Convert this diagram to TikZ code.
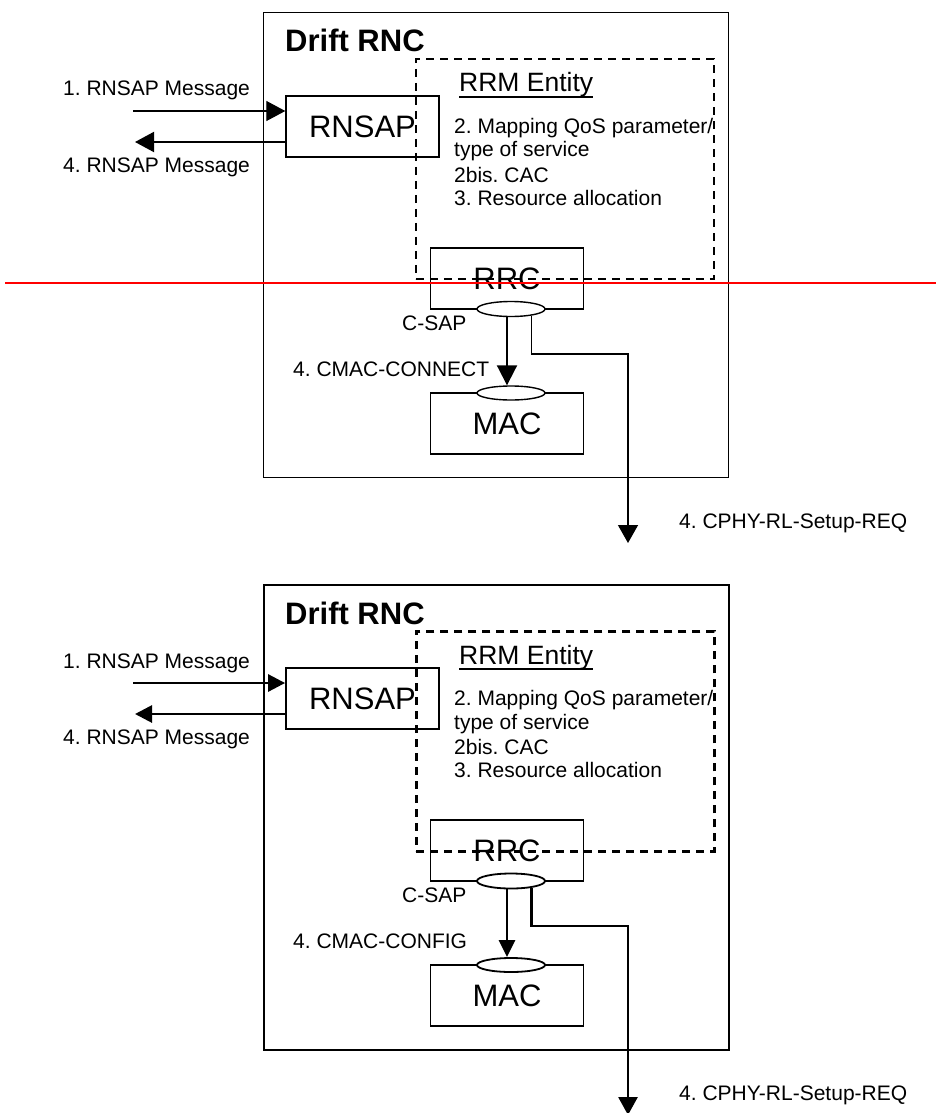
\documentclass[tikz,border=0pt]{standalone}
\usepackage{fontspec}
\setmainfont{Liberation Sans}
\usetikzlibrary{arrows.meta,shapes.geometric}
\frenchspacing
\tikzset{
  rncbox/.style={draw, wbox, inner sep=0pt, font=\fontsize{31}{36}\selectfont},
  rrmbox/.style={draw, wdash, dash pattern=on 8pt off 6pt, inner sep=0pt},
  sapell/.style={ellipse, draw, fill=white, wbox, inner sep=0pt, minimum width=68pt},
  lbl/.style={font=\fontsize{21}{24}\selectfont, inner sep=0pt},
  titletxt/.style={font=\fontsize{31}{36}\selectfont\bfseries, inner sep=0pt},
  rrmtxt/.style={font=\fontsize{26.5}{30}\selectfont, inner sep=0pt},
}
\newcommand{\rncpart}[2]{%
  \node[rncbox, minimum width=465pt, minimum height=465pt, anchor=north west] (outer#1) at (263,12) {};
  \node[titletxt, anchor=base west] (title#1) at (285,52) {Drift RNC};
  \node[rncbox, minimum width=153pt, minimum height=61pt] (rnsap#1) at (362.5,126.5) {RNSAP};
  \node[rncbox, minimum width=153pt, minimum height=61pt] (rrc#1) at (507,278.5) {RRC};
  \node[rncbox, minimum width=153pt, minimum height=61pt] (mac#1) at (507,423.5) {MAC};
  \node[rrmbox, minimum width=298pt, minimum height=220pt, anchor=north west] (rrm#1) at (415,58) {};
  \node[rrmtxt, anchor=base west] (rrmt#1) at (459,92) {RRM Entity};
  \draw[line width=1.7pt] ([yshift=-5pt]rrmt#1.base west) -- ([yshift=-5pt]rrmt#1.base east);
  \node[lbl, anchor=base west] (sa#1) at (454,133) {2. Mapping QoS parameter/};
  \node[lbl, anchor=base west] (sb#1) at (454,157) {type of service};
  \node[lbl, anchor=base west] (sc#1) at (454,182) {2bis. CAC};
  \node[lbl, anchor=base west] (sd#1) at (454,205) {3. Resource allocation};
  \node[lbl, anchor=base west] (ma#1) at (63,96) {1. RNSAP Message};
  \node[lbl, anchor=base west] (mb#1) at (63,172) {4. RNSAP Message};
  \coordinate (in#1) at (133,111);
  \coordinate (out#1) at (135,142);
  \draw[inarr] (in#1) -- (in#1 -| rnsap#1.west);
  \draw[outarr] (out#1 -| rnsap#1.west) -- (out#1);
  \node[sapell, minimum height=15pt] (csap#1) at (511,309) {};
  \node[sapell, minimum height=14pt] (msap#1) at (511,393) {};
  \node[lbl, anchor=base west] (cs#1) at (402,330) {C-SAP};
  \node[lbl, anchor=base west] (cm#1) at (293,376) {#2};
  \draw[cmacarr] ([xshift=-4pt]csap#1.south) -- ([xshift=-4pt]msap#1.north);
  \coordinate (bend#1) at (628,354);
  \coordinate (tip#1) at (628,543);
  \draw[phyarr] (csap#1.-18) |- (bend#1) -- (tip#1);
  \node[lbl, anchor=base west] (cp#1) at (679,528) {4. CPHY-RL-Setup-REQ};
}
\begin{document}
\begin{tikzpicture}[x=1pt, y=-1pt]
  \fill[white] (0,0) rectangle (936,1113);
  \useasboundingbox (0,0) rectangle (936,1113);
  \begin{scope}[
      wbox/.style={line width=1.4pt},
      wdash/.style={line width=1.7pt},
      inarr/.style={line width=1.2pt, -{Triangle[length=19pt,width=20pt]}},
      outarr/.style={line width=2pt, -{Triangle[length=19pt,width=20pt]}},
      cmacarr/.style={line width=2pt, -{Triangle[length=20pt,width=20pt]}},
      phyarr/.style={line width=1.4pt, -{Triangle[length=18pt,width=20pt]}}]
    \rncpart{a}{4. CMAC-CONNECT}
  \end{scope}
  \begin{scope}[yshift=-572pt,
      wbox/.style={line width=1.8pt},
      wdash/.style={line width=2.6pt},
      inarr/.style={line width=2.8pt, -{Triangle[length=17pt,width=17pt]}},
      outarr/.style={line width=2.8pt, -{Triangle[length=17pt,width=17pt]}},
      cmacarr/.style={line width=2.8pt, -{Triangle[length=17pt,width=16pt]}},
      phyarr/.style={line width=2.8pt, -{Triangle[length=18pt,width=19pt]}}]
    \rncpart{b}{4. CMAC-CONFIG}
  \end{scope}
  \coordinate (redL) at (5,283);
  \coordinate (redR) at (936,283);
  \draw[red, line width=2pt] (redL) -- (redR);
\end{tikzpicture}
\end{document}
